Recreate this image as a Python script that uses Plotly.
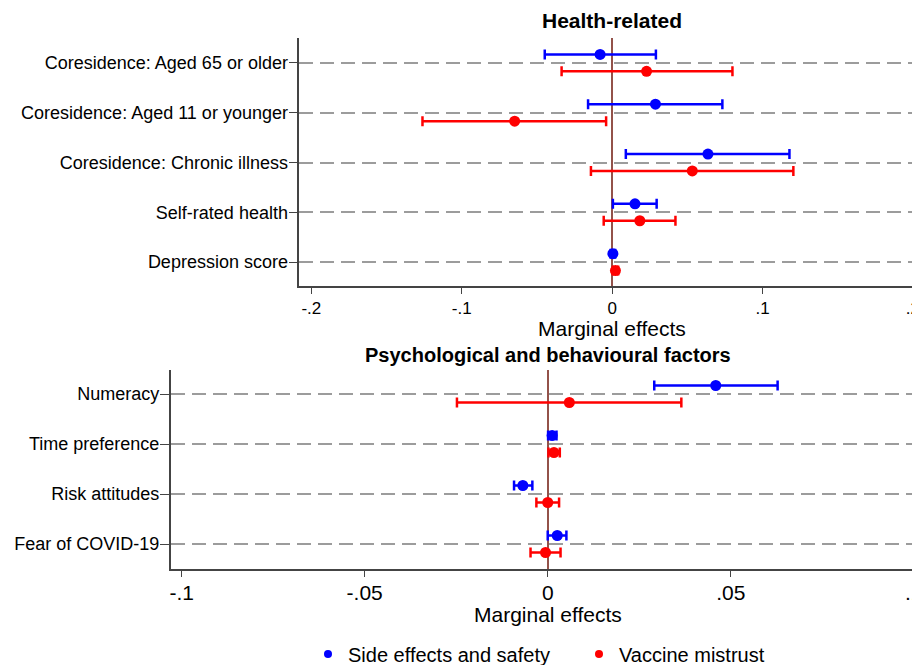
import plotly.graph_objects as go

# ---------------- data ----------------
# Top panel: Health-related (listed top to bottom)
health_labels = ["Coresidence: Aged 65 or older", "Coresidence: Aged 11 or younger",
                 "Coresidence: Chronic illness", "Self-rated health", "Depression score"]
health_side_est = [-0.0080, 0.0288, 0.0637, 0.0152, 0.0005]
health_side_lo = [-0.0448, -0.0160, 0.0091, 0.0005, -0.0010]
health_side_hi = [0.0291, 0.0733, 0.1179, 0.0296, 0.0020]
health_mis_est = [0.0229, -0.0648, 0.0533, 0.0184, 0.0022]
health_mis_lo = [-0.0336, -0.1261, -0.0141, -0.0056, 0.0004]
health_mis_hi = [0.0800, -0.0040, 0.1205, 0.0421, 0.0040]

# Bottom panel: Psychological and behavioural factors (top to bottom)
psy_labels = ["Numeracy", "Time preference", "Risk attitudes", "Fear of COVID-19"]
psy_side_est = [0.0459, 0.0012, -0.0068, 0.0026]
psy_side_lo = [0.0291, 0.0001, -0.0092, 0.0000]
psy_side_hi = [0.0628, 0.0024, -0.0042, 0.0051]
psy_mis_est = [0.0059, 0.0017, 0.0000, -0.0006]
psy_mis_lo = [-0.0248, 0.0002, -0.0031, -0.0047]
psy_mis_hi = [0.0365, 0.0033, 0.0031, 0.0035]

top_ticks = [-0.2, -0.1, 0, 0.1, 0.2]
top_ticktext = ["-.2", "-.1", "0", ".1", ".2"]
bot_ticks = [-0.1, -0.05, 0, 0.05, 0.1]
bot_ticktext = ["-.1", "-.05", "0", ".05", ".1"]

series_names = ["Side effects and safety", "Vaccine mistrust"]
BLUE = "#0000ff"
RED = "#ff0000"

# page is 920x665 but the html body has an 8px margin
PAGE_OFF = 8
W, H = 920 - PAGE_OFF, 665 - PAGE_OFF
FONT = "Liberation Sans, Arial, Helvetica, sans-serif"
OFF = 0.17


def px(x):
    return (x - PAGE_OFF) / W


def py(y):
    return 1 - (y - PAGE_OFF) / H


fig = go.Figure()


def add_panel(labels, s_est, s_lo, s_hi, m_est, m_lo, m_hi, xa, ya):
    n = len(labels)
    pos = [n - i for i in range(n)]
    for est, lo, hi, col, off in [(s_est, s_lo, s_hi, BLUE, OFF),
                                  (m_est, m_lo, m_hi, RED, -OFF)]:
        fig.add_trace(go.Scatter(
            x=est, y=[p + off for p in pos], mode="markers",
            marker=dict(color=col, size=11),
            error_x=dict(type="data", symmetric=False,
                         array=[h - e for h, e in zip(hi, est)],
                         arrayminus=[e - l for e, l in zip(est, lo)],
                         color=col, thickness=2.5, width=5),
            xaxis=xa, yaxis=ya, showlegend=False, hoverinfo="skip"))
    return pos


pos_top = add_panel(health_labels, health_side_est, health_side_lo, health_side_hi,
                    health_mis_est, health_mis_lo, health_mis_hi, "x", "y")
pos_bot = add_panel(psy_labels, psy_side_est, psy_side_lo, psy_side_hi,
                    psy_mis_est, psy_mis_lo, psy_mis_hi, "x2", "y2")

# legend-only traces
for name, col in zip(series_names, [BLUE, RED]):
    fig.add_trace(go.Scatter(x=[None], y=[None], mode="markers", name=name,
                             marker=dict(color=col, size=8), xaxis="x", yaxis="y"))

axis_common = dict(showline=True, linecolor="#444444", linewidth=1.5, automargin=False,
                   ticks="outside", tickcolor="#444444", tickwidth=1.2,
                   ticklabeloverflow="allow")

xtop = dict(axis_common, domain=[px(299.3), 1], range=[-0.208, 0.2047],
            tickvals=top_ticks, ticktext=top_ticktext, ticklen=6,
            showgrid=False, zeroline=True, zerolinecolor="#93524a", zerolinewidth=1.6,
            tickfont=dict(size=17, color="black", family=FONT), anchor="y")
ytop = dict(axis_common, domain=[py(286), py(38)], range=[0.52, 5.5],
            tickvals=pos_top, ticktext=health_labels, ticklen=9, ticklabelstandoff=-3,
            showgrid=True, gridcolor="#9c9c9c", gridwidth=2, griddash="14px,7px",
            zeroline=False, tickfont=dict(size=18, color="black", family=FONT), anchor="x")
xbot = dict(axis_common, domain=[px(170.7), 1], range=[-0.103, 0.1017],
            tickvals=bot_ticks, ticktext=bot_ticktext, ticklen=6, ticklabelstandoff=-2,
            showgrid=False, zeroline=True, zerolinecolor="#93524a", zerolinewidth=1.6,
            tickfont=dict(size=21, color="black", family=FONT), anchor="y2")
ybot = dict(axis_common, domain=[py(569), py(370)], range=[0.5, 4.48],
            tickvals=pos_bot, ticktext=psy_labels, ticklen=9, ticklabelstandoff=-3,
            showgrid=True, gridcolor="#9c9c9c", gridwidth=2, griddash="14px,7px",
            zeroline=False, tickfont=dict(size=18, color="black", family=FONT), anchor="x2")

annotations = [
    dict(text="<b>Health-related</b>", xref="x", x=0, yref="paper", y=py(20),
         showarrow=False, xanchor="center", yanchor="middle",
         font=dict(size=21, color="black", family=FONT)),
    dict(text="<b>Psychological and behavioural factors</b>", xref="x2", x=0, yref="paper",
         y=py(355), showarrow=False, xanchor="center", yanchor="middle",
         font=dict(size=20, color="black", family=FONT)),
    dict(text="Marginal effects", xref="x", x=0, yref="paper", y=py(328),
         showarrow=False, xanchor="center", yanchor="middle",
         font=dict(size=21, color="black", family=FONT)),
    dict(text="Marginal effects", xref="x2", x=0, yref="paper", y=py(614),
         showarrow=False, xanchor="center", yanchor="middle",
         font=dict(size=21, color="black", family=FONT)),
]

fig.update_layout(
    width=W, height=H, margin=dict(l=0, r=0, t=0, b=0, autoexpand=False),
    paper_bgcolor="white", plot_bgcolor="white",
    xaxis=xtop, yaxis=ytop, xaxis2=xbot, yaxis2=ybot,
    annotations=annotations,
    legend=dict(orientation="h", x=px(329 - 21), y=py(654),
                xanchor="left", yanchor="middle", entrywidth=226, entrywidthmode="pixels",
                font=dict(size=20, color="black", family=FONT), bgcolor="rgba(0,0,0,0)"),
    font=dict(family=FONT, color="black"),
)

fig.write_html("out.html")
